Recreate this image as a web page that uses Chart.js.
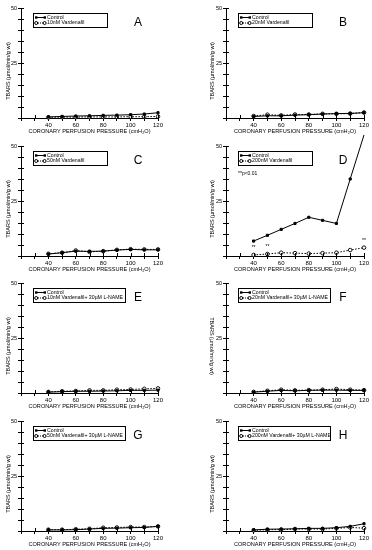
<!DOCTYPE html>
<html>
<head>
<meta charset="utf-8">
<script src="https://cdn.jsdelivr.net/npm/chart.js@4.4.1/dist/chart.umd.min.js"></script>
<style>
  html, body { margin: 0; padding: 0; background: #fff; }
  #wrap { position: relative; width: 372px; height: 550px; overflow: hidden; }
  #wrap canvas { position: absolute; }
</style>
</head>
<body>
<div id="wrap"></div>
<script>
// perfusion pressure (cmH2O) on x
const pressures = [40, 50, 60, 70, 80, 90, 100, 110, 120];
const xTickLabels = [40, 60, 80, 100, 120];
const yTickLabels = [25, 50];

// TBARS values
const controlA = [0.5, 0.7, 0.9, 1.0, 1.2, 1.3, 1.5, 1.8, 2.4];
const drugA    = [0.3, 0.4, 0.4, 0.5, 0.5, 0.5, 0.6, 0.6, 0.7];
const controlB = [0.7, 1.0, 1.0, 1.3, 1.5, 1.8, 2.0, 2.1, 2.4];
const drugB    = [0.9, 1.5, 1.2, 1.6, 1.6, 1.9, 1.9, 2.0, 2.5];
const controlC = [0.9, 1.5, 2.2, 2.1, 2.2, 2.7, 3.0, 2.8, 2.8];
const drugC    = [1.0, 1.5, 2.5, 1.9, 2.2, 2.8, 3.1, 3.0, 3.0];
const controlD = [6.8, 9.4, 12.1, 14.8, 17.6, 16.2, 14.8, 35.0, 55.0];
const drugD    = [0.5, 0.9, 1.5, 1.3, 1.1, 1.3, 1.5, 2.7, 3.8];
const controlE = [0.4, 0.6, 0.8, 0.8, 0.9, 1.0, 1.2, 1.2, 1.3];
const drugE    = [0.5, 0.8, 0.9, 1.2, 1.2, 1.5, 1.6, 1.9, 2.1];
const controlF = [0.4, 0.8, 1.2, 1.0, 1.2, 1.3, 1.3, 1.2, 1.2];
const drugF    = [0.5, 1.0, 1.5, 1.2, 1.3, 1.5, 1.8, 1.5, 1.3];
const controlG = [0.5, 0.5, 0.6, 0.9, 1.2, 1.3, 1.5, 1.6, 2.1];
const drugG    = [0.6, 0.6, 0.8, 1.0, 1.5, 1.6, 1.8, 1.8, 2.1];
const controlH = [0.5, 0.8, 0.9, 1.0, 1.2, 1.2, 1.5, 2.1, 3.3];
const drugH    = [0.3, 0.6, 0.6, 0.9, 0.9, 0.9, 1.2, 1.6, 1.3];

const panelLetters = ['A', 'B', 'C', 'D', 'E', 'F', 'G', 'H'];
const controlLabel = 'Control';
const drugLabels = [
  '10nM Vardenafil', '20nM Vardenafil', '50nM Vardenafil', '200nM Vardenafil',
  '10nM Vardenafil+ 30\u00b5M L-NAME', '20nM Vardenafil+ 30\u00b5M L-NAME',
  '50nM Vardenafil+ 30\u00b5M L-NAME', '200nM Vardenafil+ 30\u00b5M L-NAME'
];
const controlSeries = [controlA, controlB, controlC, controlD, controlE, controlF, controlG, controlH];
const drugSeries = [drugA, drugB, drugC, drugD, drugE, drugF, drugG, drugH];

// significance marks in panel D (pressures where ** is shown)
const starPressures = [40, 50, 120];
const pText = '**p<0.01';

const yTitle = 'TBARS (\u00b5mol/min/g wt)';
const xTitle = 'CORONARY PERFUSION PRESSURE (cmH\u2082O)';
const FONT = '"Liberation Sans", Arial, sans-serif';
const TOP = 6; // canvases start a bit above their row so panel D can overshoot 50

// draws axis titles, legend box, panel letter and inner tick stubs
const panelDecor = {
  id: 'panelDecor',
  afterDraw(chart, args, opts) {
    const ctx = chart.ctx;
    const area = chart.chartArea;
    const xs = chart.scales.x, ys = chart.scales.y;
    ctx.save();
    ctx.strokeStyle = '#000';
    ctx.fillStyle = '#000';
    ctx.lineWidth = 1;

    // inner half of the crossing ticks
    ctx.beginPath();
    for (let v = 5; v <= 50; v += 5) {
      const py = Math.round(ys.getPixelForValue(v)) + 0.5;
      ctx.moveTo(area.left, py); ctx.lineTo(area.left + 3, py);
    }
    for (let v = 30; v <= 120; v += 10) {
      const px = Math.round(xs.getPixelForValue(v)) + 0.5;
      ctx.moveTo(px, area.bottom); ctx.lineTo(px, area.bottom - 3);
    }
    ctx.stroke();

    // y title
    ctx.font = '5.5px ' + FONT;
    ctx.textAlign = 'center';
    ctx.textBaseline = 'middle';
    ctx.save();
    ctx.translate(opts.yTitleX, (area.top + area.bottom) / 2 + 8);
    ctx.rotate(opts.flipY ? Math.PI / 2 : -Math.PI / 2);
    ctx.fillText(yTitle, 0, 0);
    ctx.restore();

    // x title
    ctx.font = '5.6px ' + FONT;
    ctx.fillText(xTitle, (area.left + area.right) / 2, TOP + 131);

    // legend box
    const bx = area.left + 12, by = TOP + 13;
    const bw = opts.wide ? 92 : 74, bh = 14;
    ctx.strokeRect(bx + 0.5, by + 0.5, bw, bh);
    ctx.font = '5.2px ' + FONT;
    ctx.textAlign = 'left';
    const rows = [by + 4.5, by + 10];
    // control sample
    ctx.beginPath(); ctx.moveTo(bx + 3, rows[0]); ctx.lineTo(bx + 12, rows[0]); ctx.stroke();
    ctx.fillRect(bx + 2, rows[0] - 1.2, 2.4, 2.4);
    ctx.fillRect(bx + 10.6, rows[0] - 1.2, 2.4, 2.4);
    ctx.fillText(controlLabel, bx + 14, rows[0]);
    // drug sample
    ctx.setLineDash([1, 1]);
    ctx.beginPath(); ctx.moveTo(bx + 3, rows[1]); ctx.lineTo(bx + 12, rows[1]); ctx.stroke();
    ctx.setLineDash([]);
    [bx + 3.2, bx + 11.6].forEach(cx => {
      ctx.beginPath(); ctx.arc(cx, rows[1], 1.5, 0, Math.PI * 2);
      ctx.fillStyle = '#fff'; ctx.fill(); ctx.stroke(); ctx.fillStyle = '#000';
    });
    ctx.fillText(opts.drugLabel, bx + 14, rows[1]);

    // panel letter
    ctx.font = '12px ' + FONT;
    ctx.textAlign = 'center';
    ctx.fillText(opts.letter, area.left + 117, TOP + 23);

    // significance marks
    if (opts.stars) {
      ctx.font = '5px ' + FONT;
      ctx.textAlign = 'left';
      ctx.fillText(pText, bx, TOP + 36);
      ctx.textAlign = 'center';
      const drug = chart.data.datasets[1].data;
      starPressures.forEach(p => {
        const i = pressures.indexOf(p);
        ctx.fillText('**', xs.getPixelForValue(p), ys.getPixelForValue(drug[i]) - 7);
      });
    }
    ctx.restore();
  }
};

function makePanel(i) {
  const col = i % 2, row = Math.floor(i / 2);
  const canvas = document.createElement('canvas');
  canvas.width = 186;
  canvas.height = 137 + TOP;
  canvas.style.left = (col * 186) + 'px';
  canvas.style.top = (Math.round(row * 137.5) - TOP) + 'px';
  document.getElementById('wrap').appendChild(canvas);

  const axisW = col === 0 ? 21 : 40;
  const padRight = col === 0 ? 28 : 8;

  new Chart(canvas.getContext('2d'), {
    type: 'line',
    data: {
      labels: pressures,
      datasets: [{
        label: controlLabel,
        data: controlSeries[i],
        borderColor: '#000',
        borderWidth: 1,
        backgroundColor: '#000',
        pointRadius: 1.5,
        pointStyle: 'rect',
        pointBorderWidth: 1,
        tension: 0
      }, {
        label: drugLabels[i],
        data: drugSeries[i],
        borderColor: '#000',
        borderWidth: 1,
        borderDash: [1.5, 1.5],
        backgroundColor: '#fff',
        pointRadius: 1.8,
        pointBorderWidth: 0.9,
        tension: 0
      }]
    },
    options: {
      responsive: false,
      animation: false,
      events: [],
      clip: false,
      layout: { padding: { left: 0, right: padRight, top: 8 + TOP, bottom: 0 } },
      plugins: {
        legend: { display: false },
        tooltip: { enabled: false },
        panelDecor: {
          letter: panelLetters[i],
          drugLabel: drugLabels[i],
          yTitleX: col === 0 ? 8 : 26,
          flipY: i === 5,
          stars: i === 3,
          wide: i >= 4
        }
      },
      scales: {
        x: {
          type: 'linear', min: 20, max: 120,
          afterFit: s => { s.height = 19; },
          afterBuildTicks: s => { s.ticks = []; for (let v = 20; v <= 120; v += 10) s.ticks.push({ value: v }); },
          ticks: {
            autoSkip: false, maxRotation: 0, padding: 1, color: '#000',
            font: { size: 6, family: FONT },
            callback: v => xTickLabels.includes(v) ? String(v) : ''
          },
          grid: { drawOnChartArea: false, tickLength: 3, color: '#000' },
          border: { color: '#000', width: 1 }
        },
        y: {
          min: 0, max: 50,
          afterFit: s => { s.width = axisW; },
          afterBuildTicks: s => { s.ticks = []; for (let v = 0; v <= 50; v += 5) s.ticks.push({ value: v }); },
          ticks: {
            autoSkip: false, padding: 1, color: '#000',
            font: { size: 5.5, family: FONT },
            callback: v => yTickLabels.includes(v) ? String(v) : ''
          },
          grid: { drawOnChartArea: false, tickLength: 3, color: '#000' },
          border: { color: '#000', width: 1 }
        }
      }
    },
    plugins: [panelDecor]
  });
}

for (let i = 0; i < 8; i++) makePanel(i);
</script>
</body>
</html>
